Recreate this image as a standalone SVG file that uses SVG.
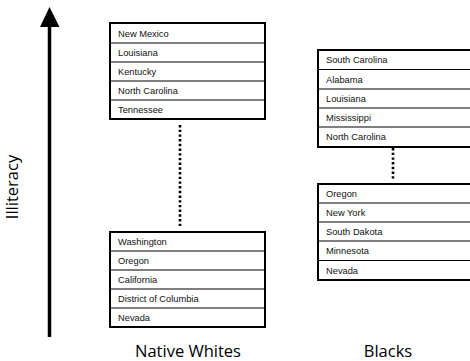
<svg xmlns="http://www.w3.org/2000/svg" width="470" height="361" viewBox="0 0 470 361">
<defs>
<style>
.box{fill:#fff;stroke:#000;stroke-width:2}
.sep{stroke:#000;stroke-width:1}
.cell{font-family:"Liberation Sans",Arial,sans-serif;font-size:9.3px;fill:#111}
.lbl{font-family:"Open Sans","Liberation Sans",sans-serif;font-size:16.5px;fill:#000}
.dot{stroke:#000;stroke-width:2.6;stroke-dasharray:2.4 2.3;fill:none}
</style>
</defs>
<rect width="470" height="361" fill="#fff"/>
<g id="connectors">
<line x1="49.5" y1="337" x2="49.5" y2="24" stroke="#000" stroke-width="3.5"/>
<polygon points="49.5,7 40,27 59.5,27" fill="#000"/>
<line class="dot" x1="180" y1="125" x2="180" y2="226"/>
<line class="dot" x1="393" y1="148" x2="393" y2="181"/>
</g>
<g id="axis-label">
<text class="lbl" transform="translate(18,187) rotate(-90)" text-anchor="middle">Illiteracy</text>
</g>
<g id="native-whites-top">
<rect class="box" x="110" y="23" width="155" height="96"/>
<line class="sep" x1="110" y1="43" x2="265" y2="43"/>
<line class="sep" x1="110" y1="62" x2="265" y2="62"/>
<line class="sep" x1="110" y1="81" x2="265" y2="81"/>
<line class="sep" x1="110" y1="100" x2="265" y2="100"/>
<text class="cell" x="118" y="36.5">New Mexico</text>
<text class="cell" x="118" y="56">Louisiana</text>
<text class="cell" x="118" y="75">Kentucky</text>
<text class="cell" x="118" y="94">North Carolina</text>
<text class="cell" x="118" y="113">Tennessee</text>
</g>
<g id="native-whites-bottom">
<rect class="box" x="110" y="232" width="155" height="95"/>
<line class="sep" x1="110" y1="251" x2="265" y2="251"/>
<line class="sep" x1="110" y1="270" x2="265" y2="270"/>
<line class="sep" x1="110" y1="289" x2="265" y2="289"/>
<line class="sep" x1="110" y1="308" x2="265" y2="308"/>
<text class="cell" x="118" y="245">Washington</text>
<text class="cell" x="118" y="264">Oregon</text>
<text class="cell" x="118" y="283">California</text>
<text class="cell" x="118" y="302">District of Columbia</text>
<text class="cell" x="118" y="321">Nevada</text>
</g>
<g id="blacks-top">
<rect class="box" x="318" y="50" width="160" height="97"/>
<line class="sep" x1="318" y1="69.5" x2="478" y2="69.5"/>
<line class="sep" x1="318" y1="89" x2="478" y2="89"/>
<line class="sep" x1="318" y1="108" x2="478" y2="108"/>
<line class="sep" x1="318" y1="127" x2="478" y2="127"/>
<text class="cell" x="326" y="63">South Carolina</text>
<text class="cell" x="326" y="82.5">Alabama</text>
<text class="cell" x="326" y="102">Louisiana</text>
<text class="cell" x="326" y="121">Mississippi</text>
<text class="cell" x="326" y="140">North Carolina</text>
</g>
<g id="blacks-bottom">
<rect class="box" x="318" y="184" width="160" height="96"/>
<line class="sep" x1="318" y1="203" x2="478" y2="203"/>
<line class="sep" x1="318" y1="222" x2="478" y2="222"/>
<line class="sep" x1="318" y1="241" x2="478" y2="241"/>
<line class="sep" x1="318" y1="260.5" x2="478" y2="260.5"/>
<text class="cell" x="326" y="197">Oregon</text>
<text class="cell" x="326" y="216">New York</text>
<text class="cell" x="326" y="235">South Dakota</text>
<text class="cell" x="326" y="254">Minnesota</text>
<text class="cell" x="326" y="274">Nevada</text>
</g>
<g id="group-labels">
<text class="lbl" x="188" y="357" text-anchor="middle">Native Whites</text>
<text class="lbl" x="388" y="357" text-anchor="middle">Blacks</text>
</g>
</svg>
